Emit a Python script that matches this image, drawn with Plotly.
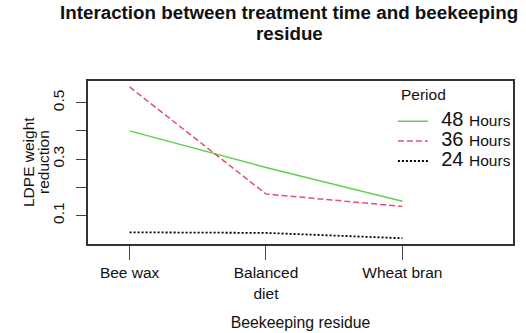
import plotly.graph_objects as go

residues = ["Bee wax", "Balanced<br>diet", "Wheat bran"]
periods = ["48", "36", "24"]
h48 = [0.400, 0.270, 0.150]
h36 = [0.556, 0.176, 0.132]
h24 = [0.040, 0.038, 0.019]
yticks = [0.1, 0.2, 0.3, 0.4, 0.5]
yticktext = ["0.1", "", "0.3", "", "0.5"]
title_lines = ["Interaction between treatment time and beekeeping", "residue"]
ytitle_lines = ["LDPE weight", "reduction"]
legend_title = "Period"

xpos = [1, 2, 3]
series = [h48, h36, h24]
colors = ["#61D04F", "#DF536B", "#000000"]
dashes = ["solid", "6px,3px", "2px,2px"]
widths = [1.5, 1.5, 1.8]

FONT = "Arial, Liberation Sans, sans-serif"
L, R, T, B, W, H = 88, 13, 81, 89, 526, 333
PW, PH = W - L - R, H - T - B


def px_to_paper(xp, yp):
    return (xp - L) / PW, 1 + (T - yp) / PH


fig = go.Figure()
for p, vals, c, d, w in zip(periods, series, colors, dashes, widths):
    fig.add_trace(go.Scatter(
        x=xpos, y=vals, mode="lines",
        line=dict(color=c, dash=d, width=w),
        name=(f'<span style="font-size:30px">&nbsp;</span>'
              f'<span style="font-size:20px">{p}&nbsp;</span>'
              f'<span style="font-size:15.5px">Hours</span>'),
    ))

# title as two annotations
for txt, yp in zip(title_lines, [12, 33.5]):
    xv, yv = px_to_paper(289, yp)
    fig.add_annotation(
        text=f"<b>{txt}</b>", xref="paper", yref="paper", x=xv, y=yv,
        xanchor="center", yanchor="middle", showarrow=False,
        font=dict(size=18.8, color="#111111", family=FONT),
    )

# y-axis title as two rotated annotations
for txt, xp in zip(ytitle_lines, [28, 43]):
    xv, yv = px_to_paper(xp, 162)
    fig.add_annotation(
        text=txt, xref="paper", yref="paper", x=xv, y=yv, textangle=-90,
        xanchor="center", yanchor="middle", showarrow=False,
        font=dict(size=15.5, color="#111111", family=FONT),
    )

# legend title
xv, yv = px_to_paper(399, 95)
fig.add_annotation(
    text=legend_title, xref="paper", yref="paper", x=xv, y=yv,
    xanchor="left", yanchor="middle", showarrow=False,
    font=dict(size=15.5, color="#111111", family=FONT),
)

fig.update_layout(
    width=W, height=H,
    margin=dict(l=L, r=R, t=T, b=B, autoexpand=False),
    paper_bgcolor="white", plot_bgcolor="white",
    font=dict(family=FONT, size=15.5, color="#111111"),
    showlegend=True,
    legend=dict(
        x=0.7174, xanchor="left", y=0.845, yanchor="top",
        bgcolor="rgba(0,0,0,0)", borderwidth=0,
        font=dict(size=13), tracegroupgap=0,
    ),
)
fig.update_xaxes(
    range=[0.695, 3.811], automargin=False,
    tickvals=xpos, ticktext=residues,
    ticks="outside", ticklen=14, tickcolor="#444444", tickwidth=1.2,
    ticklabelstandoff=0,
    showline=True, linecolor="#333333", linewidth=1.5, mirror=True,
    showgrid=False, zeroline=False,
    title=dict(text="Beekeeping residue", standoff=16, font=dict(size=15.8)),
)
fig.update_yaxes(
    range=[-0.0014, 0.577], automargin=False,
    tickvals=yticks, ticktext=yticktext, tickangle=-90,
    ticks="outside", ticklen=10, tickcolor="#444444", tickwidth=1.2,
    ticklabelstandoff=6,
    showline=True, linecolor="#333333", linewidth=1.5, mirror=True,
    showgrid=False, zeroline=False,
)
fig.write_html("out.html", config={"displayModeBar": False},
               post_script="document.body.style.margin='0';")
